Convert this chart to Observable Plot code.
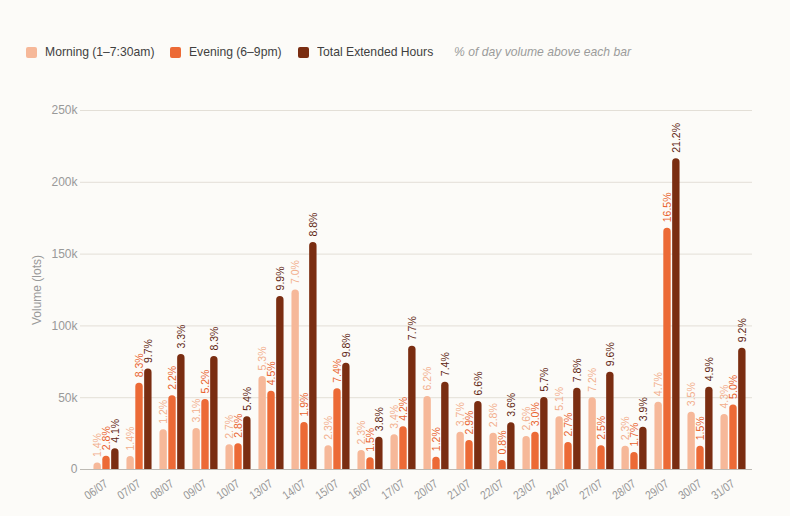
<!DOCTYPE html>
<html>
<head>
<meta charset="utf-8">
<script src="https://cdn.jsdelivr.net/npm/d3@7"></script>
<script src="https://cdn.jsdelivr.net/npm/@observablehq/plot@0.6"></script>
<style>
  html, body { margin: 0; padding: 0; background: #fcfbf8; }
  body { width: 790px; height: 516px; overflow: hidden; font-family: "Liberation Sans", Arial, sans-serif; }
  #legend { position: relative; height: 80px; font-family: "Liberation Sans", Arial, sans-serif; font-size: 13px; color: #3f3f3f; }
  .sw { position: absolute; top: 47px; width: 11px; height: 10.5px; border-radius: 2px; }
  .lt { position: absolute; top: 44px; line-height: 16px; white-space: nowrap; transform-origin: 0 50%; }
  .note { font-style: italic; color: #9b9b9b; }
  #chart { height: 436px; }
</style>
</head>
<body>
<div id="legend"></div>
<div id="chart"></div>
<script>
const dates = ["06/07","07/07","08/07","09/07","10/07","13/07","14/07","15/07","16/07","17/07","20/07","21/07","22/07","23/07","24/07","27/07","28/07","29/07","30/07","31/07"];
// volumes in thousands of lots
const morning = [4.5, 9, 27.6, 28.5, 17.2, 64.8, 125, 16.5, 13.2, 24.2, 50.8, 26, 25.3, 23, 36.7, 49.9, 16.2, 46.9, 39.9, 38.3];
const evening = [9.3, 60, 51.3, 48.7, 18, 54.5, 32.7, 56.2, 8.1, 29.7, 8.6, 20.2, 6.3, 26, 18.8, 16.5, 11.8, 168, 16.2, 45];
const total = [14.4, 70, 80, 78.7, 36.7, 120.5, 158, 74, 22.5, 85.9, 60.8, 47.4, 32.5, 50.1, 56.6, 67.8, 29.5, 216.4, 57.3, 84.5];
const morningPct = ["1.4%","1.4%","1.2%","3.1%","2.7%","5.3%","7.0%","2.3%","2.3%","3.4%","6.2%","3.7%","2.8%","2.6%","5.1%","7.2%","2.3%","4.7%","3.5%","4.3%"];
const eveningPct = ["2.8%","8.3%","2.2%","5.2%","2.8%","4.5%","1.9%","7.4%","1.5%","4.2%","1.2%","2.9%","0.8%","3.0%","2.7%","2.5%","1.7%","16.5%","1.5%","5.0%"];
const totalPct = ["4.1%","9.7%","3.3%","8.3%","5.4%","9.9%","8.8%","9.8%","3.8%","7.7%","7.4%","6.6%","3.6%","5.7%","7.8%","9.6%","3.9%","21.2%","4.9%","9.2%"];
const yTicks = [0, 50, 100, 150, 200, 250];
const seriesNames = ["Morning (1–7:30am)", "Evening (6–9pm)", "Total Extended Hours"];
const noteText = "% of day volume above each bar";
const barColors = ["#f6b899", "#ec6a36", "#7a2d11"];
const labelColors = ["#f2ae8c", "#e9622d", "#5e2410"];

const rows = dates.map((d, i) => ({date: d, m: morning[i], e: evening[i], t: total[i], mp: morningPct[i], ep: eveningPct[i], tp: totalPct[i]}));

// legend
const lg = document.getElementById("legend");
const squeeze = 0.935;
const swX = [26, 170, 298], txX = [44.5, 188.5, 317], noteX = 454;
seriesNames.forEach((n, i) => {
  const s = document.createElement("span"); s.className = "sw";
  s.style.left = swX[i] + "px"; s.style.background = barColors[i];
  lg.appendChild(s);
  const t = document.createElement("span"); t.className = "lt"; t.textContent = n;
  t.style.left = txX[i] + "px"; t.style.transform = `scaleX(${squeeze})`;
  lg.appendChild(t);
});
const nt = document.createElement("span"); nt.className = "lt note"; nt.textContent = noteText;
nt.style.left = noteX + "px"; nt.style.transform = `scaleX(${squeeze})`;
lg.appendChild(nt);

const W = 790, mL = 80, mR = 38, xInset = 8;
const bandW = (W - mL - mR - xInset) / dates.length * 0.8;
const third = bandW / 3;
const bw = third - 0.9;
const off = [-third, 0, third];
const keys = ["m", "e", "t"], pkeys = ["mp", "ep", "tp"];

const marks = [
  Plot.gridY(yTicks, {stroke: "#e3dfd7", strokeOpacity: 1}),
  Plot.ruleY([0], {stroke: "#bdbab4"}),
  Plot.axisY({ticks: yTicks, tickSize: 0, tickPadding: 3, tickFormat: d => d === 0 ? "0" : d + "k", fontSize: 12, color: "#999", label: "Volume (lots)", labelAnchor: "center", labelArrow: "none", labelOffset: 48}),
  Plot.axisX({tickSize: 0, tickPadding: 13, tickRotate: -35, fontSize: 12, color: "#979797", label: null})
];
keys.forEach((k, i) => {
  const il = bandW / 2 + off[i] - bw / 2;
  const ir = bandW - il - bw;
  marks.push(Plot.barY(rows, {x: "date", y: k, fill: barColors[i], insetLeft: il, insetRight: ir, ry1: 4}));
  marks.push(Plot.text(rows, {x: "date", y: k, text: pkeys[i], fill: labelColors[i], rotate: -90, textAnchor: "start", dx: off[i], dy: -6, fontSize: 10.5}));
});

const chart = Plot.plot({
  width: W, height: 436,
  marginLeft: mL, marginRight: mR, marginTop: 30, marginBottom: 47,
  style: {background: "transparent", fontFamily: "'Liberation Sans', Arial, sans-serif"},
  x: {type: "band", domain: dates, paddingInner: 0.2, paddingOuter: 0.1, insetLeft: xInset, axis: null},
  y: {domain: [0, 250], axis: null},
  marks
});
document.getElementById("chart").appendChild(chart);

// slightly condense the x tick labels like the reference's narrower face
d3.select(chart).selectAll('g[aria-label="x-axis tick label"] text').each(function () {
  const len = this.getComputedTextLength();
  this.setAttribute("textLength", (len * 0.84).toFixed(1));
  this.setAttribute("lengthAdjust", "spacingAndGlyphs");
});
</script>
</body>
</html>
